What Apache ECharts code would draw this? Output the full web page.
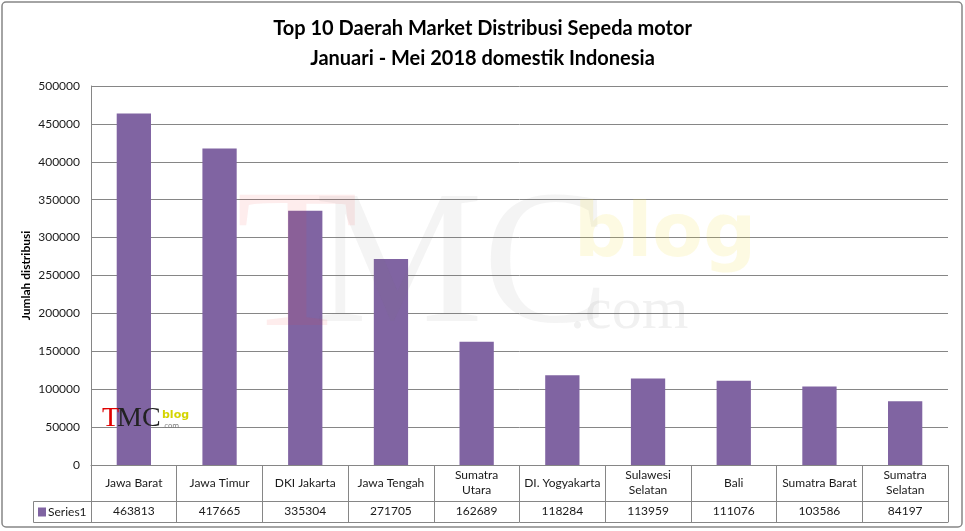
<!DOCTYPE html>
<html>
<head>
<meta charset="utf-8">
<script src="https://cdn.jsdelivr.net/npm/echarts@6/dist/echarts.min.js"></script>
<style>
  html, body { margin: 0; padding: 0; background: #fff; }
  #chart { width: 965px; height: 531px; }
</style>
</head>
<body>
<div id="chart"></div>
<script>
// data (tabel data di bawah grafik)
const categories = ['Jawa Barat', 'Jawa Timur', 'DKI Jakarta', 'Jawa Tengah', 'Sumatra\nUtara',
  'DI. Yogyakarta', 'Sulawesi\nSelatan', 'Bali', 'Sumatra Barat', 'Sumatra\nSelatan']
const series1 = [463813, 417665, 335304, 271705, 162689, 118284, 113959, 111076, 103586, 84197]
const yTicks = [0, 50000, 100000, 150000, 200000, 250000, 300000, 350000, 400000, 450000, 500000]

const font = 'Lato, "Open Sans", sans-serif'
const lineColor = '#868686'
const barColor = '#8064a2'

const chart = echarts.init(document.getElementById('chart'))

chart.setOption({
  animation: false,
  title: {
    text: 'Top 10 Daerah Market Distribusi Sepeda motor\nJanuari - Mei 2018 domestik Indonesia',
    left: 'center',
    top: 9,
    textStyle: { fontFamily: font, fontWeight: 'bold', fontSize: 20, lineHeight: 30, color: '#000' }
  },
  legend: {
    left: 38,
    top: 506,
    padding: 0,
    itemWidth: 8,
    itemHeight: 9,
    itemGap: 0,
    selectedMode: false,
    icon: 'rect',
    textStyle: { fontFamily: font, fontSize: 12, color: '#1a1a1a', padding: [0, 0, 0, -3] },
    data: ['Series1']
  },
  grid: { left: 91, right: 17, top: 86, bottom: 66 },
  xAxis: [
    {
      type: 'category',
      data: categories,
      position: 'bottom',
      axisLine: { lineStyle: { color: lineColor } },
      axisTick: { show: true, interval: 0, length: 57, lineStyle: { color: lineColor } },
      axisLabel: {
        interval: 0, margin: 18, verticalAlign: 'middle', align: 'center',
        fontFamily: font, fontSize: 12, lineHeight: 15, color: '#1a1a1a'
      }
    },
    {
      type: 'category',
      data: series1.map(String),
      position: 'bottom',
      offset: 36,
      axisLine: { lineStyle: { color: lineColor } },
      axisTick: { show: false },
      axisLabel: { interval: 0, margin: 4, fontFamily: font, fontSize: 12, color: '#1a1a1a' }
    },
    {
      type: 'category',
      data: categories,
      position: 'bottom',
      offset: 57,
      axisLine: { lineStyle: { color: lineColor } },
      axisTick: { show: false },
      axisLabel: { show: false }
    }
  ],
  yAxis: {
    type: 'value',
    min: yTicks[0],
    max: yTicks[yTicks.length - 1],
    interval: 50000,
    name: 'Jumlah distribusi',
    nameLocation: 'middle',
    nameGap: 65,
    nameMoveOverlap: false,
    nameTextStyle: { fontFamily: font, fontWeight: 'bold', fontSize: 12, color: '#000', verticalAlign: 'middle' },
    axisLine: { show: true, lineStyle: { color: lineColor } },
    axisTick: { show: false },
    splitLine: { lineStyle: { color: lineColor, width: 1 } },
    axisLabel: { margin: 11, fontFamily: font, fontSize: 12, color: '#1a1a1a', formatter: v => String(v) }
  },
  series: [{
    name: 'Series1',
    type: 'bar',
    data: series1,
    barWidth: '40%',
    itemStyle: { color: barColor }
  }],
  graphic: [
    // bingkai luar grafik
    { type: 'rect', shape: { x: 2, y: 2, width: 960, height: 525, r: 4 }, style: { fill: null, stroke: lineColor, lineWidth: 1.5 }, silent: true, z: -1 },
    // sel "Series1" pada tabel data
    { type: 'polyline', shape: { points: [[91, 501.5], [33.5, 501.5], [33.5, 522.5], [91, 522.5]] }, style: { fill: null, stroke: lineColor, lineWidth: 1 }, silent: true },
    // watermark besar TMCblog.com
    { type: 'text', left: 236, top: 172, silent: true, z: 100, style: { text: 'T', font: '200px "Liberation Serif", serif', fill: 'rgba(240,60,60,0.09)' } },
    { type: 'text', left: 314, top: 176, silent: true, z: 100, style: { text: 'MC', font: '190px "Liberation Serif", serif', fill: 'rgba(110,110,110,0.08)' } },
    { type: 'text', left: 574, top: 200, silent: true, z: 100, style: { text: 'blog', font: 'bold 74px "DejaVu Sans", sans-serif', fill: 'rgba(240,220,60,0.15)' } },
    { type: 'text', left: 570, top: 282, silent: true, z: 100, style: { text: '.com', font: '60px "Liberation Serif", serif', fill: 'rgba(120,120,120,0.10)' } },
    // logo kecil
    { type: 'text', left: 102, top: 405, silent: true, z: 100, style: { text: 'T', font: '28px "Liberation Serif", serif', fill: '#e00000' } },
    { type: 'text', left: 117, top: 405, silent: true, z: 100, style: { text: 'MC', font: '28px "Liberation Serif", serif', fill: '#222' } },
    { type: 'text', left: 162, top: 410, silent: true, z: 100, style: { text: 'blog', font: 'bold 11px "DejaVu Sans", sans-serif', fill: '#d4d400' } },
    { type: 'text', left: 162, top: 423, silent: true, z: 100, style: { text: '.com', font: '7px "DejaVu Sans", sans-serif', fill: '#777' } }
  ]
})
</script>
</body>
</html>
